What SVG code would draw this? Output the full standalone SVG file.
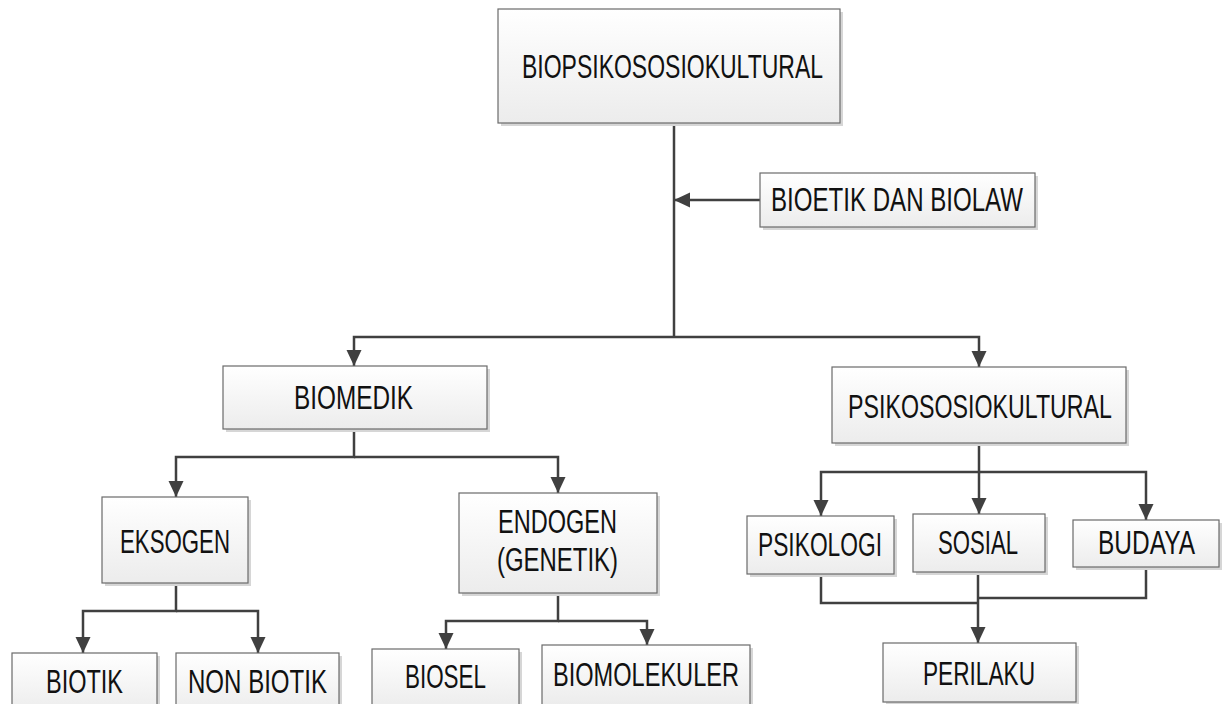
<svg xmlns="http://www.w3.org/2000/svg" width="1224" height="704" viewBox="0 0 1224 704">
<style>
.box{fill:url(#bg);stroke:#6a6a6a;stroke-width:1.2}
.sh{fill:#d6d6d6}
.t{font-family:"Liberation Sans",Arial,sans-serif;font-size:33px;fill:#111;text-anchor:middle}
.c{fill:none;stroke:#404040;stroke-width:2.5}
.a{marker-end:url(#arr)}
</style>
<defs>
<linearGradient id="bg" x1="0" y1="0" x2="0" y2="1">
<stop offset="0" stop-color="#ffffff"/>
<stop offset="1" stop-color="#ececec"/>
</linearGradient>
<marker id="arr" markerUnits="userSpaceOnUse" markerWidth="16" markerHeight="16" refX="16" refY="7.5" orient="auto">
<path d="M0,0 L16,7.5 L0,15 z" fill="#404040"/>
</marker>
</defs>
<rect width="1224" height="704" fill="#ffffff"/>
<g id="connectors">
<path class="c" d="M674,123 V337"/>
<path class="c a" d="M760,200 H674"/>
<path class="c a" d="M674,337 H354 V366"/>
<path class="c a" d="M674,337 H979 V367"/>
<path class="c a" d="M354,429 V457 H176 V497"/>
<path class="c a" d="M354,457 H558 V493"/>
<path class="c a" d="M176,583 V611 H83 V653"/>
<path class="c a" d="M176,611 H258 V653"/>
<path class="c a" d="M558,593 V621 H446 V649"/>
<path class="c a" d="M558,621 H647 V645"/>
<path class="c a" d="M979,443 V472 H821 V516"/>
<path class="c a" d="M979,472 V514"/>
<path class="c a" d="M979,472 H1146 V520"/>
<path class="c" d="M821,574 V603 H978"/>
<path class="c" d="M1146,567 V598 H978"/>
<path class="c a" d="M978,572 V643"/>
</g>
<g id="n-biopsiko">
<rect class="sh" x="501" y="12" width="342" height="114"/>
<rect class="box" x="498" y="9" width="342" height="114"/>
<text class="t" x="672.5" y="78" textLength="301" lengthAdjust="spacingAndGlyphs">BIOPSIKOSOSIOKULTURAL</text>
</g>
<g id="n-bioetik">
<rect class="sh" x="763" y="176" width="275" height="54"/>
<rect class="box" x="760" y="173" width="275" height="54"/>
<text class="t" x="897" y="211" textLength="252" lengthAdjust="spacingAndGlyphs">BIOETIK DAN BIOLAW</text>
</g>
<g id="n-biomedik">
<rect class="sh" x="226" y="369" width="264" height="63"/>
<rect class="box" x="223" y="366" width="264" height="63"/>
<text class="t" x="353.5" y="409" textLength="119" lengthAdjust="spacingAndGlyphs">BIOMEDIK</text>
</g>
<g id="n-psikososio">
<rect class="sh" x="835" y="370" width="294" height="76"/>
<rect class="box" x="832" y="367" width="294" height="76"/>
<text class="t" x="980" y="418" textLength="264" lengthAdjust="spacingAndGlyphs">PSIKOSOSIOKULTURAL</text>
</g>
<g id="n-eksogen">
<rect class="sh" x="105" y="500" width="146" height="86"/>
<rect class="box" x="102" y="497" width="146" height="86"/>
<text class="t" x="175" y="553" textLength="110" lengthAdjust="spacingAndGlyphs">EKSOGEN</text>
</g>
<g id="n-endogen">
<rect class="sh" x="462" y="496" width="198" height="100"/>
<rect class="box" x="459" y="493" width="198" height="100"/>
<text class="t" x="557.5" y="533" textLength="119" lengthAdjust="spacingAndGlyphs">ENDOGEN</text>
<text class="t" x="557.5" y="571" textLength="121" lengthAdjust="spacingAndGlyphs">(GENETIK)</text>
</g>
<g id="n-biotik">
<rect class="sh" x="15" y="656" width="145" height="60"/>
<rect class="box" x="12" y="653" width="145" height="60"/>
<text class="t" x="84.5" y="693" textLength="77" lengthAdjust="spacingAndGlyphs">BIOTIK</text>
</g>
<g id="n-nonbiotik">
<rect class="sh" x="179" y="656" width="163" height="60"/>
<rect class="box" x="176" y="653" width="163" height="60"/>
<text class="t" x="257.5" y="693" textLength="139" lengthAdjust="spacingAndGlyphs">NON BIOTIK</text>
</g>
<g id="n-biosel">
<rect class="sh" x="375" y="652" width="147" height="60"/>
<rect class="box" x="372" y="649" width="147" height="60"/>
<text class="t" x="445.5" y="688" textLength="81" lengthAdjust="spacingAndGlyphs">BIOSEL</text>
</g>
<g id="n-biomolekuler">
<rect class="sh" x="545" y="648" width="208" height="60"/>
<rect class="box" x="542" y="645" width="208" height="60"/>
<text class="t" x="646" y="686" textLength="186" lengthAdjust="spacingAndGlyphs">BIOMOLEKULER</text>
</g>
<g id="n-psikologi">
<rect class="sh" x="750" y="519" width="147" height="58"/>
<rect class="box" x="747" y="516" width="147" height="58"/>
<text class="t" x="820" y="556" textLength="124" lengthAdjust="spacingAndGlyphs">PSIKOLOGI</text>
</g>
<g id="n-sosial">
<rect class="sh" x="916" y="517" width="132" height="58"/>
<rect class="box" x="913" y="514" width="132" height="58"/>
<text class="t" x="978" y="554" textLength="80" lengthAdjust="spacingAndGlyphs">SOSIAL</text>
</g>
<g id="n-budaya">
<rect class="sh" x="1076" y="523" width="146" height="47"/>
<rect class="box" x="1073" y="520" width="146" height="47"/>
<text class="t" x="1146.5" y="554" textLength="97" lengthAdjust="spacingAndGlyphs">BUDAYA</text>
</g>
<g id="n-perilaku">
<rect class="sh" x="886" y="646" width="193" height="59"/>
<rect class="box" x="883" y="643" width="193" height="59"/>
<text class="t" x="979" y="685" textLength="112" lengthAdjust="spacingAndGlyphs">PERILAKU</text>
</g>
</svg>
